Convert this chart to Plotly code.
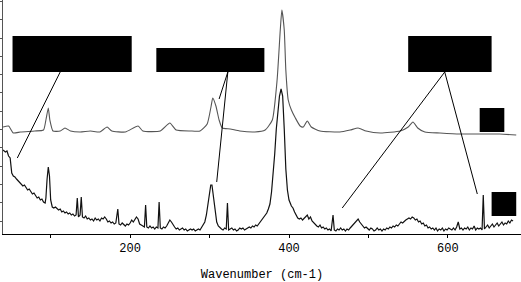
import plotly.graph_objects as go

# ---- data: Raman spectra, wavenumber (cm-1) vs intensity (arbitrary units) ----
top_wavenumber = [40, 47, 53, 62, 80, 91, 94, 97, 99, 103, 112, 118, 125, 137, 150, 162, 171, 177, 194, 210, 216, 238,
                  250, 258, 276, 288, 297, 302, 304, 308, 312, 316, 326, 338, 357, 370, 379, 385, 389, 391, 394, 396,
                  399, 403, 408, 414, 418, 423, 428, 439, 464, 477, 487, 497, 515, 540, 550, 556, 562, 571, 590, 615,
                  640, 665, 686]
top_intensity = [107, 108, 101, 102, 103, 104, 114, 126, 114, 103, 103, 106, 103, 102, 103, 102, 107, 103, 102, 108, 103, 103,
                 111, 104, 103, 103, 110, 128, 136, 128, 114, 106, 105, 103, 102, 104, 114, 154, 204, 224, 204, 164,
                 134, 124, 116, 108, 107, 113, 107, 103, 102, 104, 106, 103, 101, 103, 107, 112, 106, 102, 101, 100,
                 100, 100, 99]

bottom_wavenumber = [
    40, 43, 45, 47, 49, 51, 53, 55, 57, 59, 61, 63, 65, 67, 69, 71, 73, 75, 77, 79, 81, 83, 85, 87, 89, 91, 93, 94,
    95.5, 97, 98.5, 100, 102, 104, 106, 108, 110, 112, 114, 116, 118, 120, 122, 124, 126, 128, 130, 132, 133.5, 135,
    137, 138.5, 140, 142, 144, 146, 148, 150, 152, 154, 156, 158, 160, 162, 164, 166, 168, 170, 172, 174, 176, 178,
    180, 182, 184.5, 186, 188, 190, 192, 194, 196, 198, 200, 202, 204, 206, 208, 210, 212, 214, 216, 218, 219.5, 221,
    223, 225, 227, 229, 231, 233, 235, 236.5, 238, 240, 242, 244, 246, 248, 250, 252, 254, 256, 258, 260, 262, 264,
    266, 268, 270, 272, 274, 276, 278, 280, 282, 284, 286, 288, 290, 292, 294, 296, 298, 300, 301.5, 303, 305, 307,
    309, 311, 313, 315, 317, 319, 321, 322.5, 324, 326, 328, 330, 332, 334, 336, 338, 340, 342, 344, 346, 348, 350,
    352, 354, 356, 358, 360, 362, 364, 366, 368, 370, 372, 374, 376, 378, 380, 382, 384, 386, 388, 390, 392, 394, 396,
    398, 400, 403, 405, 407, 409, 411, 413, 415, 417, 419, 421, 423, 425, 427, 429, 431, 433, 435, 437, 439, 441, 443,
    445, 447, 449, 451, 453, 455.4, 457, 459, 461, 463, 465, 467, 469, 471, 473, 475, 477, 479, 481, 483, 485, 487,
    489, 491, 493, 495, 497, 499, 501, 503, 505, 507, 509, 511, 513, 515, 517, 519, 521, 523, 525, 527, 529, 531, 533,
    535, 537, 539, 541, 543, 545, 547, 549, 551, 553, 555, 557, 559, 561, 563, 565, 567, 569, 571, 573, 575, 577, 579,
    581, 583, 585, 587, 589, 591, 593, 595, 597, 599, 601, 603, 605, 607, 609, 611, 613, 615, 617, 619, 621, 623, 625,
    627, 629, 631, 633, 635, 637, 639, 641, 643, 644.5, 646, 648, 650, 652, 654, 656, 658, 660, 662, 664, 666, 668,
    670, 672, 674, 676, 678, 680, 682]
bottom_intensity = [
    84, 82, 83, 78, 76, 61, 58, 57, 55, 53, 51, 50, 48, 49, 46, 44, 45, 42, 40, 41, 38, 36, 37, 34, 35, 32, 31, 36,
    55, 67, 58, 34, 27, 26, 27, 25, 24, 25, 22, 23, 21, 22, 20, 21, 19, 20, 18, 19, 36, 17,
    19, 37, 17, 16, 18, 15, 16, 14, 15, 13, 16, 14, 15, 13, 16, 15, 17, 15, 12, 13, 11, 12,
    10, 11, 25, 10, 9, 11, 9, 8, 10, 9, 11, 14, 12, 14, 17, 15, 10, 9, 8, 7, 29, 7,
    6, 8, 6, 7, 5, 7, 6, 32, 6, 5, 7, 6, 8, 11, 14, 12, 9, 7, 5, 6, 4, 5,
    6, 4, 5, 3, 4, 5, 4, 5, 3, 4, 5, 4, 7, 9, 12, 19, 30, 42, 49, 49, 38, 22,
    12, 8, 6, 5, 4, 6, 5, 31, 4, 5, 6, 4, 5, 3, 4, 6, 5, 6, 4, 5, 6, 7,
    6, 8, 7, 9, 8, 10, 12, 14, 16, 18, 21, 25, 30, 42, 58, 80, 105, 125, 138, 145, 138, 105, 65,
    44, 34, 28, 26, 22, 19, 16, 15, 16, 14, 16, 18, 19, 15, 17, 13, 11, 9, 8, 7, 9, 6, 7,
    5, 6, 4, 5, 3, 19, 4, 3, 5, 4, 6, 4, 5, 3, 5, 4, 6, 8, 10, 12, 14, 15,
    12, 10, 8, 6, 7, 5, 4, 6, 5, 3, 4, 6, 4, 5, 3, 5, 4, 6, 5, 7, 6, 8, 7,
    9, 8, 10, 12, 11, 13, 14, 15, 16, 15, 17, 16, 14, 15, 12, 13, 10, 11, 8, 9, 6, 7, 5,
    6, 4, 6, 3, 5, 4, 6, 3, 5, 4, 6, 5, 4, 6, 4, 7, 12, 5, 6, 4, 6, 5, 7,
    4, 6, 5, 8, 4, 6, 5, 6, 4, 39, 5, 7, 9, 6, 8, 10, 7, 9, 11, 8, 10, 12,
    9, 11, 10, 13, 11, 14, 13]

# redacted label boxes (x0, x1, y0, y1) and their leader lines (x0, y0, x1, y1), in data units
label_boxes = [(52, 202, 162, 198), (233, 369, 162, 186), (550, 655, 162, 198), (640, 671, 102, 126), (655, 686, 18, 42)]
leader_lines = [(112, 162, 58, 76), (323, 162, 309, 52), (323, 162, 312, 135), (596, 162, 467, 26), (596, 162, 637, 40)]

x_tick_vals = [100, 200, 300, 400, 500, 600]
x_tick_text = ["", "200", "", "400", "", "600"]

fig = go.Figure()
fig.add_trace(go.Scatter(x=top_wavenumber, y=top_intensity, mode="lines",
                         line=dict(color="#555555", width=1.1, shape="spline", smoothing=0.5),
                         showlegend=False, hoverinfo="skip"))
fig.add_trace(go.Scatter(x=bottom_wavenumber, y=bottom_intensity, mode="lines",
                         line=dict(color="#111111", width=1.2),
                         showlegend=False, hoverinfo="skip"))

for (x0, x1, y0, y1) in label_boxes:
    fig.add_shape(type="rect", xref="x", yref="y", x0=x0, x1=x1, y0=y0, y1=y1,
                  fillcolor="black", line=dict(width=0))
for (x0, y0, x1, y1) in leader_lines:
    fig.add_shape(type="line", xref="x", yref="y", x0=x0, y0=y0, x1=x1, y1=y1,
                  line=dict(color="black", width=1))

fig.update_layout(
    width=521, height=282,
    margin=dict(l=0, r=0, t=0, b=0),
    paper_bgcolor="white", plot_bgcolor="white",
    font=dict(family="Liberation Mono", size=12, color="black"),
    xaxis=dict(domain=[3 / 521, 1], range=[40, 692], tickvals=x_tick_vals, ticktext=x_tick_text,
               ticks="outside", ticklen=3, tickcolor="black", showline=True, linecolor="black", linewidth=1,
               showgrid=False, zeroline=False, automargin=False,
               title=dict(text="Wavenumber (cm-1)", standoff=14, font=dict(size=12))),
    yaxis=dict(domain=[48 / 282, 1], range=[0, 234], tick0=13, dtick=18.3,
               ticks="outside", ticklen=3, tickcolor="#555555", showticklabels=False,
               showline=True, linecolor="#555555", linewidth=1, showgrid=False, zeroline=False, automargin=False),
)

fig.write_html("out.html")
